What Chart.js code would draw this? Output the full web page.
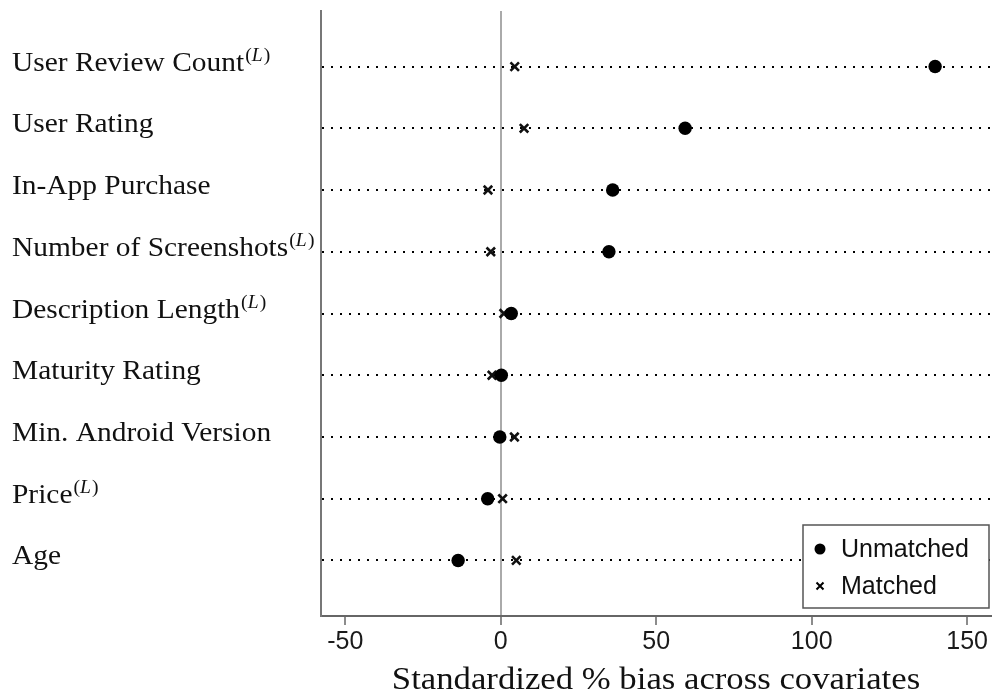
<!DOCTYPE html>
<html>
<head>
<meta charset="utf-8">
<script src="https://cdn.jsdelivr.net/npm/chart.js@4"></script>
<style>
html,body{margin:0;padding:0;background:#fff;}
#wrap{width:1000px;height:698px;}
</style>
</head>
<body>
<div id="wrap"><canvas id="c" width="1000" height="698"></canvas></div>
<script>
// ---- data ----
const categories = ["User Review Count","User Rating","In-App Purchase","Number of Screenshots","Description Length","Maturity Rating","Min. Android Version","Price","Age"];
const logged = [true,false,false,true,true,false,false,true,false];
const unmatched = [139.7, 59.3, 36.0, 34.8, 3.4, 0.2, -0.3, -4.2, -13.7];
const matched   = [4.5, 7.5, -4.1, -3.2, 1.0, -2.8, 4.4, 0.6, 5.0];
const xTicks = [-50, 0, 50, 100, 150];
const xTitle = "Standardized % bias across covariates";
const seriesNames = ["Unmatched", "Matched"];

const SERIF = '"Liberation Serif", "DejaVu Serif", serif';
const SANS = '"Liberation Sans", Arial, sans-serif';
const SX = 1.09;

const labelPlugin = {
  id: 'labels',
  afterDraw(chart) {
    const ctx = chart.ctx;
    const ys = chart.scales.y;
    ctx.save();
    ctx.fillStyle = '#111';
    ctx.textBaseline = 'alphabetic';
    categories.forEach((c, i) => {
      const y = ys.getPixelForValue(i + 1) + 4;
      ctx.save();
      ctx.translate(12, y);
      ctx.scale(SX, 1);
      ctx.font = '27px ' + SERIF;
      ctx.textAlign = 'left';
      ctx.fillText(c, 0, 0);
      let w = ctx.measureText(c).width + 1;
      if (logged[i]) {
        const sy = -10;
        ctx.font = '18px ' + SERIF;
        ctx.fillText('(', w, sy); w += ctx.measureText('(').width;
        ctx.font = 'italic 18px ' + SERIF;
        ctx.fillText('L', w, sy); w += ctx.measureText('L').width + 1;
        ctx.font = '18px ' + SERIF;
        ctx.fillText(')', w, sy);
      }
      ctx.restore();
    });
    // x title
    ctx.save();
    ctx.translate(656, 689);
    ctx.scale(1.12, 1);
    ctx.font = '31px ' + SERIF;
    ctx.textAlign = 'center';
    ctx.fillText(xTitle, 0, 0);
    ctx.restore();
    // legend
    ctx.fillStyle = '#fff';
    ctx.fillRect(803, 525, 186, 83);
    ctx.strokeStyle = '#555';
    ctx.lineWidth = 1.5;
    ctx.strokeRect(803, 525, 186, 83);
    ctx.fillStyle = '#000';
    ctx.beginPath(); ctx.arc(820, 549, 5.5, 0, Math.PI * 2); ctx.fill();
    ctx.strokeStyle = '#000'; ctx.lineWidth = 2;
    const r = 3.5;
    ctx.beginPath();
    ctx.moveTo(820 - r, 586 - r); ctx.lineTo(820 + r, 586 + r);
    ctx.moveTo(820 + r, 586 - r); ctx.lineTo(820 - r, 586 + r);
    ctx.stroke();
    ctx.font = '25px ' + SANS;
    ctx.fillStyle = '#111';
    ctx.textAlign = 'left';
    ctx.textBaseline = 'middle';
    ctx.fillText(seriesNames[0], 841, 550);
    ctx.fillText(seriesNames[1], 841, 587);
    ctx.restore();
  }
};

new Chart(document.getElementById('c'), {
  type: 'scatter',
  data: {
    datasets: [
      {
        label: seriesNames[0],
        data: unmatched.map((v, i) => ({x: v, y: i + 1})),
        pointStyle: 'circle', pointRadius: 6.7, pointHoverRadius: 6.7,
        backgroundColor: '#000', borderColor: '#000', borderWidth: 0
      },
      {
        label: seriesNames[1],
        data: matched.map((v, i) => ({x: v, y: i + 1})),
        pointStyle: 'crossRot', pointRadius: 6, pointHoverRadius: 6,
        backgroundColor: '#000', borderColor: '#111', borderWidth: 2.6
      }
    ]
  },
  options: {
    responsive: false,
    animation: false,
    events: [],
    layout: {padding: {left: 0, top: 11, right: 3, bottom: 0}},
    plugins: {legend: {display: false}, tooltip: {enabled: false}},
    scales: {
      x: {
        type: 'linear', min: -57.8, max: 157.8,
        afterBuildTicks: (axis) => { axis.ticks = xTicks.map(v => ({value: v})); },
        afterFit: (axis) => { axis.height = 82; },
        ticks: {font: {family: SANS, size: 25}, color: '#1a1a1a', padding: 2, maxRotation: 0},
        grid: {
          color: (c) => (c.tick && c.tick.value === 0) ? '#aaa' : 'rgba(0,0,0,0)',
          lineWidth: 2, tickColor: '#666', tickWidth: 1.5, tickLength: 9
        },
        border: {color: '#666', width: 2}
      },
      y: {
        type: 'linear', min: 0.1, max: 9.9, reverse: true,
        afterBuildTicks: (axis) => { axis.ticks = categories.map((c, i) => ({value: i + 1})); },
        afterFit: (axis) => { axis.width = 321; },
        ticks: {display: false},
        grid: {color: '#000', lineWidth: 2, drawTicks: false},
        border: {color: '#777', width: 2, dash: [2, 7]}
      }
    }
  },
  plugins: [labelPlugin]
});
</script>
</body>
</html>
